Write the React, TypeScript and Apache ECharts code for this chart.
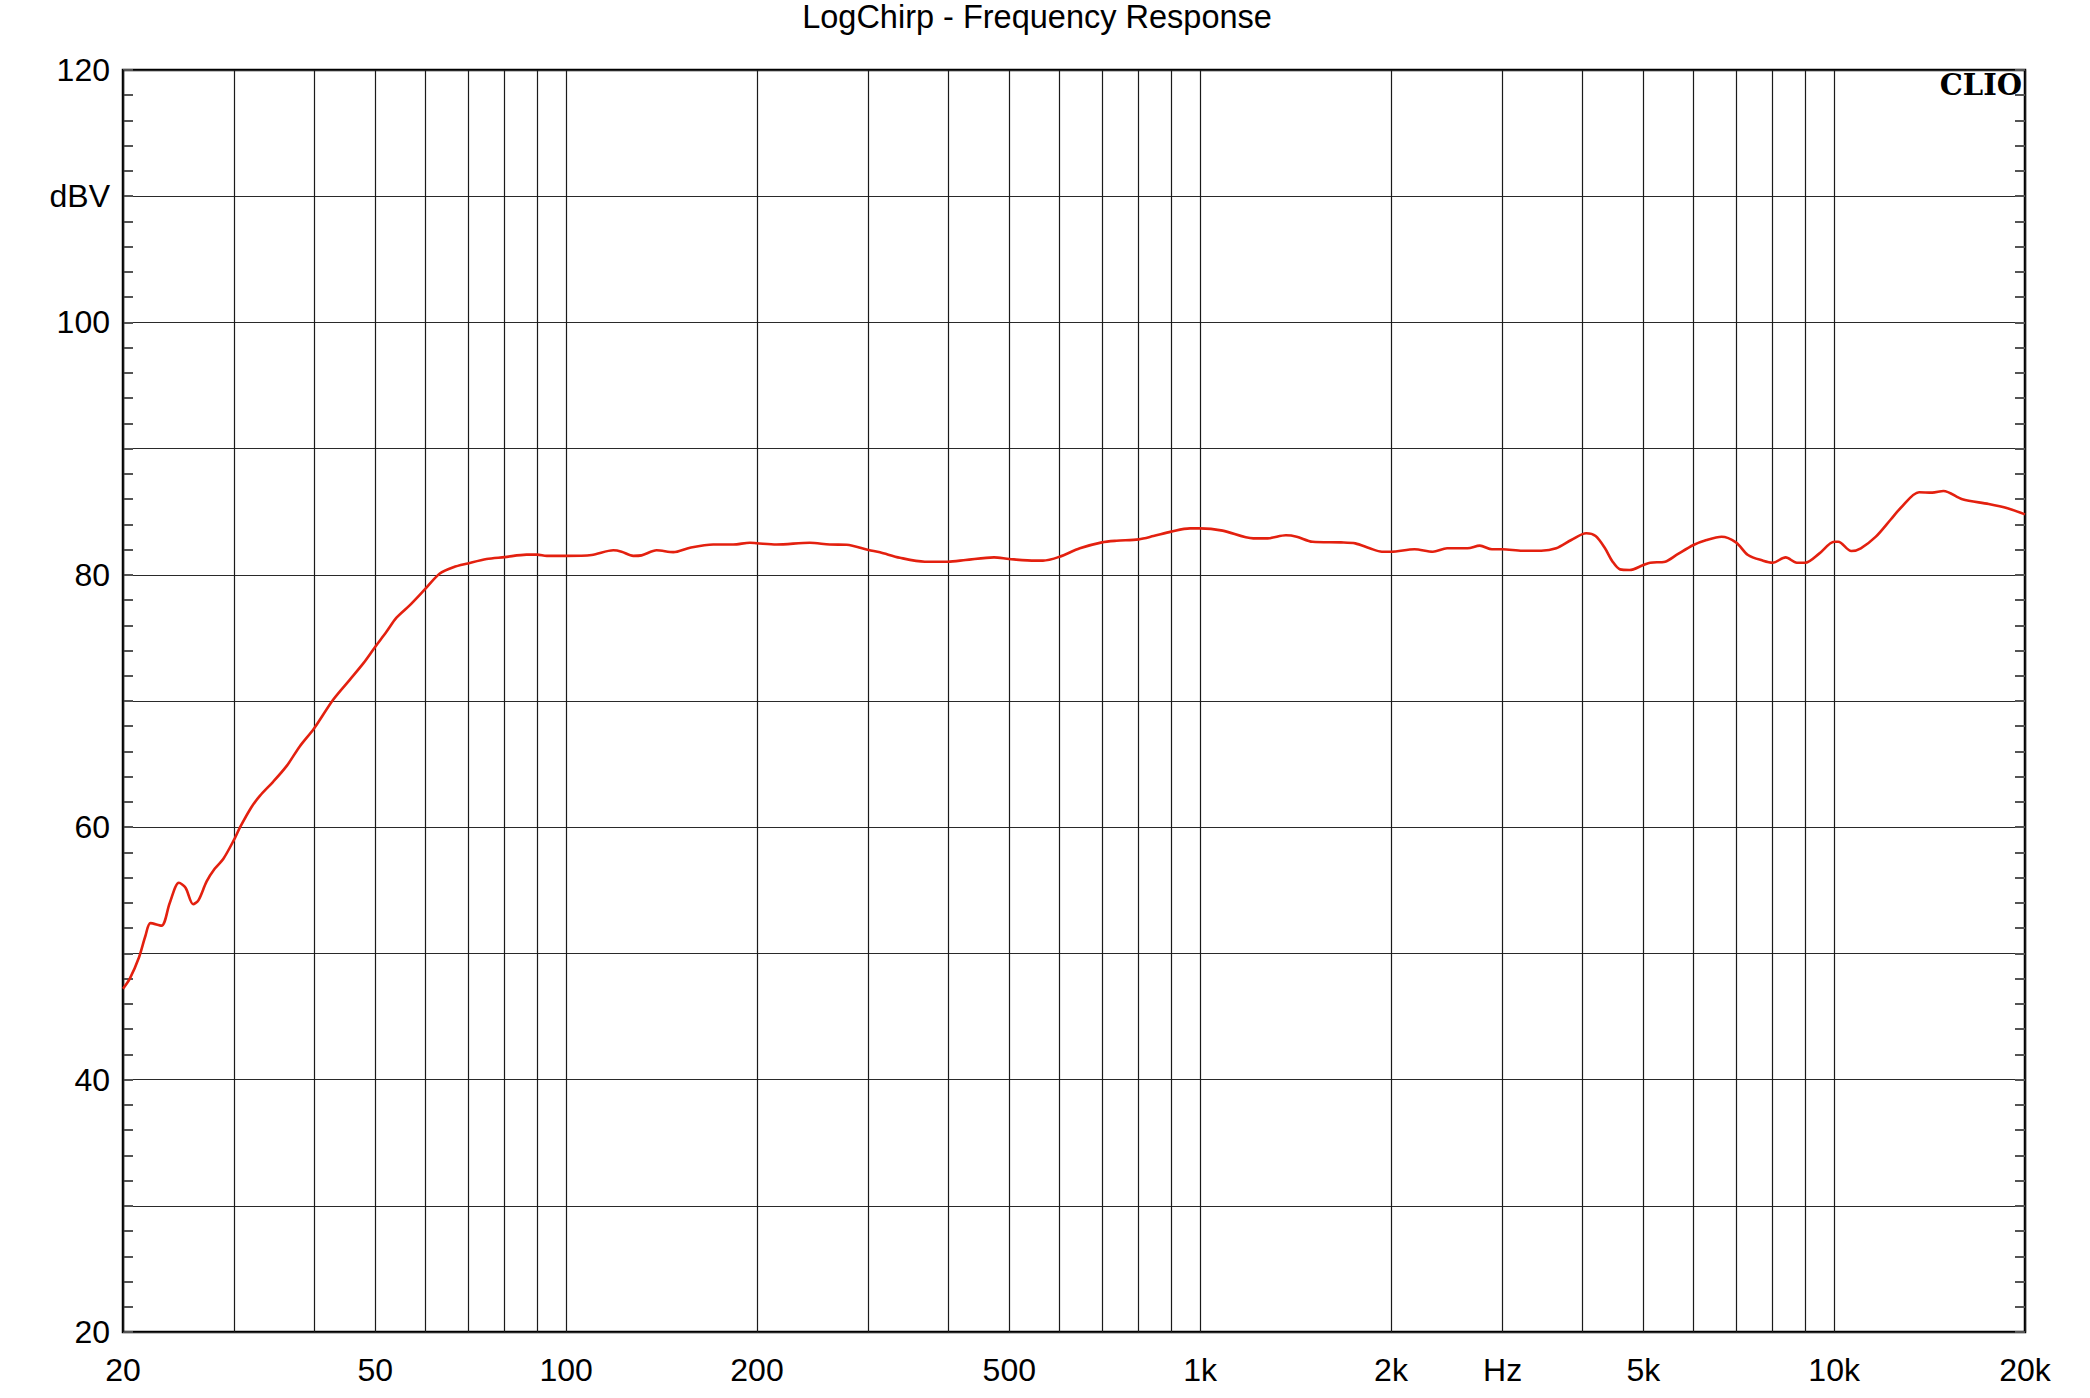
import React, { useEffect, useRef } from "react";
import * as echarts from "echarts";

const freqHz = [
  20, 20.5, 21.2, 21.7, 22.1, 23.0, 23.7, 24.5, 25.1, 25.8, 26.3, 27.1, 27.9, 28.8, 30,
  30.6, 31.9, 32.9, 34.5, 36.3, 38, 40, 42.9, 45.6, 47.9, 50, 52.1, 54, 56.7, 60,
  63.2, 66.4, 70, 74.9, 80, 86.6, 90, 93.2, 100, 109.7, 118.7, 122.3, 127.6, 131.5, 138.9,
  147.6, 156.8, 170.6, 183.5, 194.9, 200, 214.7, 242.3, 260.5, 276.9, 300, 312.6, 336, 367.9,
  400, 426.6, 473, 500, 549, 565, 600, 646, 700, 738, 800, 844, 900, 964, 1000,
  1085, 1213, 1278, 1365, 1420, 1504, 1668, 1757, 1851, 1935, 2000, 2178, 2328, 2452, 2641,
  2761, 2886, 3000, 3222, 3451, 3644, 3849, 4064, 4205, 4351, 4473, 4596, 4756, 5000, 5127,
  5413, 5640, 6000, 6291, 6645, 7000, 7313, 7726, 8000, 8385, 8732, 9000, 9480, 10000, 10150,
  10645, 11017, 11636, 12292, 12719, 13614, 14281, 14875, 15931, 17528, 18770, 20000,
];

const levelDbv = [
  47.2, 48.0, 49.7, 51.4, 52.4, 52.2, 54.0, 55.6, 55.2, 53.9, 54.2, 55.7, 56.7, 57.5, 59.1,
  60.0, 61.6, 62.5, 63.6, 64.9, 66.4, 67.8, 70.1, 71.7, 73.0, 74.3, 75.5, 76.6, 77.6, 78.9,
  80.1, 80.6, 80.9, 81.25, 81.4, 81.6, 81.6, 81.5, 81.5, 81.57, 81.94, 81.83, 81.5, 81.54, 81.94,
  81.8, 82.15, 82.4, 82.4, 82.54, 82.5, 82.4, 82.54, 82.4, 82.38, 81.96, 81.78, 81.35, 81.04,
  81.04, 81.17, 81.38, 81.25, 81.12, 81.12, 81.43, 82.1, 82.57, 82.7, 82.81, 83.07, 83.42, 83.68, 83.68,
  83.5, 82.89, 82.89, 83.13, 83.02, 82.62, 82.57, 82.49, 82.1, 81.83, 81.83, 82.02, 81.83, 82.1, 82.1,
  82.31, 82.02, 82.02, 81.91, 81.91, 82.1, 82.76, 83.29, 83.07, 82.1, 81.04, 80.43, 80.38, 80.77, 80.96,
  81.04, 81.57, 82.36, 82.76, 83.02, 82.57, 81.57, 81.12, 80.96, 81.38, 80.96, 80.96, 81.7, 82.62, 82.62,
  81.88, 82.1, 83.02, 84.4, 85.27, 86.54, 86.51, 86.64, 85.98, 85.61, 85.27, 84.79,
];

const gridFreqs = [
  20, 30, 40, 50, 60, 70, 80, 90, 100, 200, 300, 400, 500, 600, 700, 800, 900,
  1000, 2000, 3000, 4000, 5000, 6000, 7000, 8000, 9000, 10000, 20000,
];
const xTickValues = [20, 50, 100, 200, 500, 1000, 2000, 3000, 5000, 10000, 20000];
const xTickLabels = ["20", "50", "100", "200", "500", "1k", "2k", "Hz", "5k", "10k", "20k"];

const yMin = 20;
const yMax = 120;
const yStep = 10;
const yLabelValues = [20, 40, 60, 80, 100, 120];
const yUnitValue = 110;
const yUnitLabel = "dBV";

const titleText = "LogChirp - Frequency Response";
const brandText = "CLIO";

export default function App() {
  const ref = useRef<HTMLDivElement>(null);

  useEffect(() => {
    if (!ref.current) return;
    const chart = echarts.init(ref.current, undefined, { renderer: "svg" });
    const font = "'Liberation Sans', Arial, sans-serif";
    const lineData = freqHz.map((f, i) => [f, levelDbv[i]]);

    const markData = gridFreqs.map((f) => {
      const idx = xTickValues.indexOf(f);
      return {
        xAxis: f,
        label:
          idx >= 0
            ? { show: true, formatter: xTickLabels[idx] }
            : { show: false },
      };
    });

    const yAxisBase = {
      type: "value",
      min: yMin,
      max: yMax,
      interval: yStep,
      axisLine: { show: false },
      axisTick: { show: true, inside: true, length: 10, lineStyle: { color: "#555", width: 2 } },
      minorTick: { show: true, splitNumber: 5, length: 10, lineStyle: { color: "#555", width: 2 } },
    };

    chart.setOption({
      animation: false,
      backgroundColor: "#ffffff",
      title: {
        text: titleText,
        left: 1032,
        textAlign: "center",
        top: -5,
        textStyle: { fontFamily: font, fontSize: 32.5, fontWeight: "normal", color: "#000" },
      },
      grid: {
        left: 123,
        right: 65,
        top: 70,
        bottom: 66,
        show: true,
        borderColor: "#000",
        borderWidth: 2.5,
        backgroundColor: "transparent",
      },
      xAxis: {
        type: "log",
        logBase: 10,
        min: 20,
        max: 20000,
        axisLine: { show: false },
        axisTick: { show: false },
        axisLabel: { show: false },
        splitLine: { show: false },
        minorTick: { show: false },
        minorSplitLine: { show: false },
      },
      yAxis: [
        {
          ...yAxisBase,
          position: "left",
          splitLine: { show: true, lineStyle: { color: "#2a2a2a", width: 1.2 } },
          axisLabel: {
            show: true,
            fontFamily: font,
            fontSize: 32,
            color: "#000",
            margin: 13,
            formatter: (v: number) =>
              v === yUnitValue ? yUnitLabel : yLabelValues.indexOf(v) >= 0 ? String(v) : "",
          },
        },
        {
          ...yAxisBase,
          position: "right",
          splitLine: { show: false },
          axisLabel: { show: false },
        },
      ],
      graphic: [
        {
          type: "text",
          right: 68,
          top: 70,
          style: {
            text: brandText,
            fontFamily: "'DejaVu Serif', 'Liberation Serif', serif",
            fontWeight: "bold",
            fontSize: 29,
            fill: "#000",
          },
          z: 100,
        },
      ],
      series: [
        {
          type: "line",
          xAxisIndex: 0,
          yAxisIndex: 0,
          data: lineData,
          showSymbol: false,
          smooth: 0.3,
          clip: false,
          lineStyle: { color: "#e3200f", width: 2.6 },
          z: 10,
          markLine: {
            silent: true,
            symbol: ["none", "none"],
            animation: false,
            lineStyle: { color: "#1a1a1a", width: 1.2, type: "solid" },
            label: {
              position: "start",
              distance: 22,
              fontFamily: font,
              fontSize: 32,
              color: "#000",
            },
            emphasis: { disabled: true },
            data: markData,
          },
        },
      ],
    });

    return () => chart.dispose();
  }, []);

  return (
    <div
      ref={ref}
      style={{ position: "fixed", left: 0, top: 0, width: 2090, height: 1398, background: "#fff" }}
    />
  );
}
